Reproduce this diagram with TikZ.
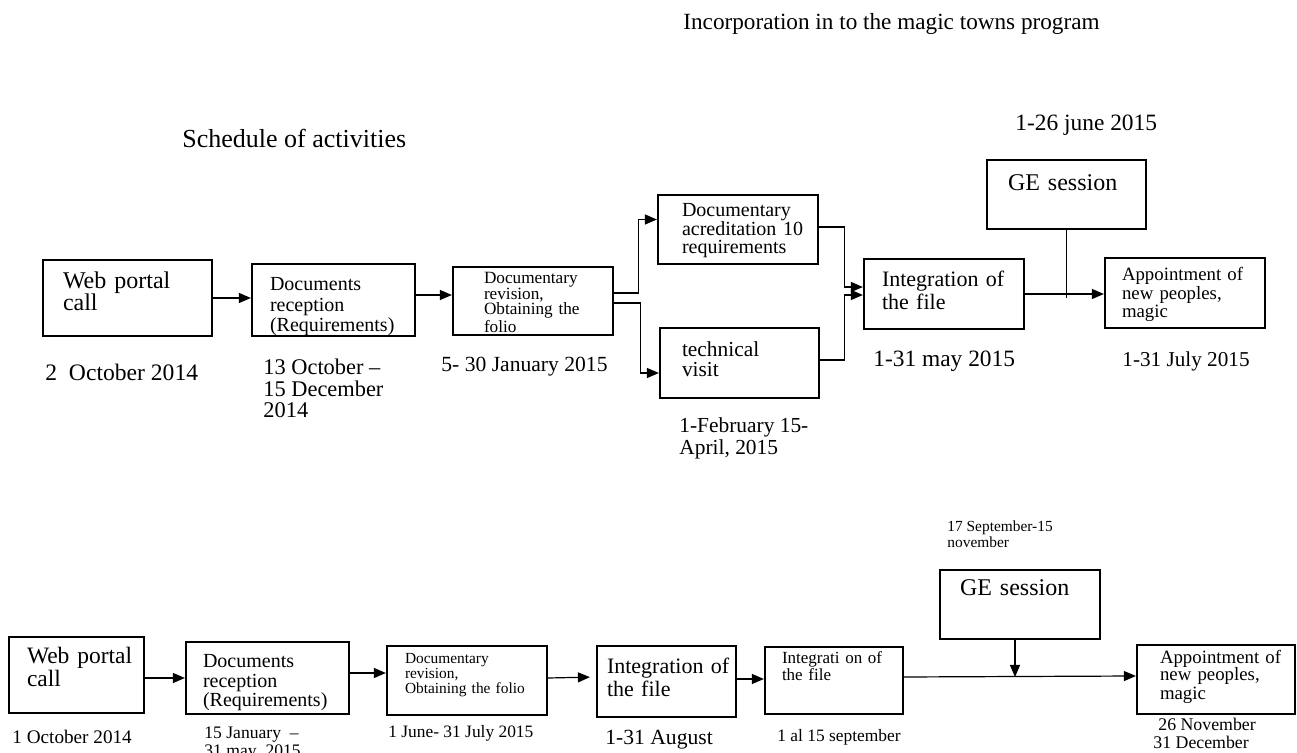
\documentclass[tikz,border=0pt]{standalone}
\usepackage{fontspec}
\setmainfont{Liberation Serif}
\usepackage{tikz}
\usetikzlibrary{arrows.meta}
\hyphenpenalty=10000
\newcommand{\fs}[2]{\fontsize{#1}{#2}\selectfont}
\tikzset{stage/.style={draw, line width=1.1pt, inner ysep=0pt, align=left}}
\tikzset{boxed/.style n args={5}{minimum width=#1, minimum height=#2, inner xsep=#3,
    text width=#1-2*#3, text height=#4, text depth=#2-#4, font=#5}}
\tikzset{lbl/.style={inner sep=0pt, anchor=base west, align=left}}
\tikzset{link/.style={line width=0.6pt}}
\tikzset{arr/.style={link, -{Triangle[length=6pt,width=5pt]}}}

\begin{document}
\begin{tikzpicture}[x=0.5pt, y=-0.5pt]
    \useasboundingbox (0, 0) rectangle (1297, 753);

    % headings
    \node [lbl, font=\fs{11.6}{14}] (title) at (683, 30) {Incorporation in to the magic towns program};
    \node [lbl, font=\fs{13}{15}] (sched) at (182, 148) {Schedule of activities};
    \node [lbl, font=\fs{11.7}{14}] (june) at (1015, 131) {1-26 june 2015};

    % first schedule
    \node [stage, boxed={84.5pt}{38pt}{10pt}{14.5pt}{\fs{12}{11}}] (web1) at (127.5, 298) {Web portal\\call};
    \node [stage, boxed={81.5pt}{36pt}{9pt}{13.5pt}{\fs{10}{10.25}}] (docs1) at (333.5, 300) {Documents\\reception\\(Requirements)};
    \node [stage, boxed={80pt}{34pt}{15.5pt}{8.5pt}{\fs{8.6}{7.65}}] (rev1) at (533, 301)
        {Documentary\\revision,\\\makebox[60.5pt][s]{Obtaining the}\\folio};
    \node [stage, boxed={80pt}{34.5pt}{12pt}{11pt}{\fs{10}{9.25}}] (acr) at (738, 229.5)
        {Documentary\\acreditation~10\\requirements};
    \node [stage, boxed={79.5pt}{35pt}{11pt}{14.5pt}{\fs{10.7}{9.75}}] (tech) at (739.5, 363) {technical\\visit};
    \node [stage, boxed={80pt}{35pt}{9pt}{14pt}{\fs{11}{9.75}}] (integ1) at (944, 294) {Integration~of\\the file};
    \node [stage, boxed={79.5pt}{34.5pt}{10.5pt}{15.5pt}{\fs{12}{12}}] (ge1) at (1066.5, 194.5) {GE session};
    \node [stage, boxed={80pt}{35pt}{8.5pt}{11.5pt}{\fs{9.4}{9.25}}] (app1) at (1185, 293)
        {Appointment~of\\new peoples,\\magic};

    \node [lbl, font=\fs{11.8}{14}] (d1) at (45, 381) {2~ October 2014};
    \node [lbl, font=\fs{11.2}{10.75}] (d2) at (263, 418) {13 October –\\15 December\\2014};
    \node [lbl, font=\fs{10.8}{13}] (d3) at (441, 372) {5- 30 January 2015};
    \node [lbl, font=\fs{10.7}{11}] (d4) at (679, 455) {1-February 15-\\April, 2015};
    \node [lbl, font=\fs{11.7}{14}] (d5) at (873, 367) {1-31 may 2015};
    \node [lbl, font=\fs{10.6}{13}] (d6) at (1122, 367) {1-31 July 2015};

    \draw [arr] (web1.east) -- (web1.east -| docs1.west);
    \draw [arr] ([yshift=2.5pt]docs1.east) -- ([yshift=2.5pt]docs1.east -| rev1.west);
    \draw [arr] ([yshift=4pt]rev1.east) -- ++(24, 0) |- ([yshift=5pt]acr.west);
    \draw [arr] ([yshift=-1pt]rev1.east) -- ++(26, 0) |- ([yshift=-5pt]tech.west);
    \draw [arr] ([yshift=1.25pt]acr.east) -- ++(25, 0) |- ([yshift=3.5pt]integ1.west);
    \draw [arr] ([yshift=1.5pt]tech.east) -- ++(24, 0) |- ([yshift=-0.5pt]integ1.west);
    \draw [arr] (integ1.east) -- (integ1.east -| app1.west);
    \coordinate (ge1foot) at (ge1.south |- integ1.east);
    \draw [link] (ge1.south) -- ([yshift=-2pt]ge1foot);

    % second schedule
    \node [stage, boxed={67.5pt}{38pt}{9pt}{13.5pt}{\fs{11.75}{11.5}}] (web2) at (76.5, 675) {Web~portal\\call};
    \node [stage, boxed={81.5pt}{36pt}{8.5pt}{13pt}{\fs{10}{9.75}}] (docs2) at (267.5, 678) {Documents\\reception\\(Requirements)};
    \node [stage, boxed={80pt}{34.5pt}{9pt}{9pt}{\fs{7.7}{7.25}}] (rev2) at (467, 680.5)
        {Documentary\\revision,\\Obtaining the folio};
    \node [stage, boxed={69.5pt}{35.5pt}{5pt}{14pt}{\fs{11}{10}}] (integ2) at (666.5, 681.5) {Integration~of\\the file};
    \node [stage, boxed={69pt}{33.5pt}{8.5pt}{8pt}{\fs{8.5}{7.5}}] (integ3) at (834, 680.5) {Integrati on~of\\the file};
    \node [stage, boxed={80pt}{34.5pt}{10pt}{13pt}{\fs{12}{12}}] (ge2) at (1020, 604.5) {GE session};
    \node [stage, boxed={79pt}{34.5pt}{11.5pt}{9pt}{\fs{9.4}{9}}] (app2) at (1216, 679.5)
        {Appointment~of\\new peoples,\\magic};

    \node [lbl, font=\fs{7.7}{8}] (e0) at (947, 548) {17 September-15\\november};
    \node [lbl, font=\fs{9.6}{12}] (e1) at (12, 743) {1 October 2014};
    \node [lbl, font=\fs{8.8}{9}] (e2) at (204, 756) {15 January~ –\\31 may~ 2015};
    \node [lbl, font=\fs{8.7}{10}] (e3) at (388, 738) {1 June- 31 July 2015};
    \node [lbl, font=\fs{10.8}{13}] (e4) at (605, 744) {1-31 August};
    \node [lbl, font=\fs{8.7}{10}] (e5) at (777, 741) {1 al 15 september};
    \node [lbl, font=\fs{8.9}{9}] (e6) at (1153, 748) {\hspace*{2.5pt}26 November\\31 December};

    \draw [arr] ([yshift=-1.5pt]web2.east) -- ([yshift=-1.5pt]web2.east -| docs2.west);
    \draw [arr] ([yshift=2.5pt]docs2.east) -- ([yshift=2.5pt]docs2.east -| rev2.west);
    \draw [arr, shorten >=3pt] ([yshift=1.25pt]rev2.east) -- ([yshift=2.25pt]integ2.west);
    \draw [arr] ([yshift=1.25pt]integ2.east) -- ([yshift=1.25pt]integ2.east -| integ3.west);
    \draw [arr] ([yshift=1.75pt]integ3.east) -- ([yshift=1.75pt]app2.west);
    \coordinate (ge2top) at ([xshift=-2.5pt]ge2.south);
    \coordinate (ge2foot) at (ge2top |- integ3.east);
    \draw [arr] (ge2top) -- ([yshift=1.75pt]ge2foot);
\end{tikzpicture}
\end{document}
